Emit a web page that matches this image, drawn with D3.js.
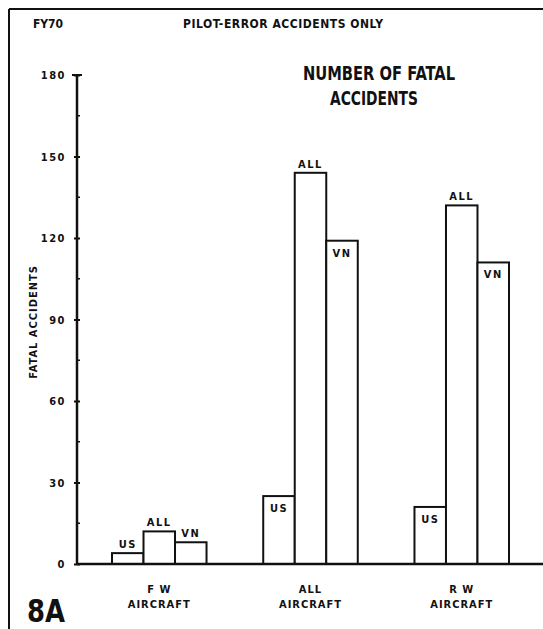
<!DOCTYPE html>
<html>
<head>
<meta charset="utf-8">
<script src="https://cdn.jsdelivr.net/npm/d3@7"></script>
<style>
  html, body { margin: 0; padding: 0; background: #fff; }
  svg { display: block; }
  text { font-family: "DejaVu Sans", sans-serif; font-stretch: condensed; font-weight: bold; fill: #111; }
</style>
</head>
<body>
<script>
// ---- data ----
const groups = ["FW", "ALL", "RW"];
const groupLabels = [["F W", "AIRCRAFT"], ["ALL", "AIRCRAFT"], ["R W", "AIRCRAFT"]];
const series = ["US", "ALL", "VN"];
const seriesLabels = ["US", "ALL", "VN"];
const usValues = [4, 25, 21];
const allValues = [12, 144, 132];
const vnValues = [8, 119, 111];
const yTicks = [0, 30, 60, 90, 120, 150, 180];
const yMinorTicks = [15, 45, 75, 105, 135, 165];

const W = 543, H = 629;
const svg = d3.select("body").append("svg").attr("width", W).attr("height", H);

// frame (top and left edges of the scanned page)
svg.append("line").attr("x1", 9).attr("x2", W).attr("y1", 9).attr("y2", 9)
  .attr("stroke", "#111").attr("stroke-width", 2);
svg.append("line").attr("x1", 9).attr("x2", 9).attr("y1", 9).attr("y2", H)
  .attr("stroke", "#111").attr("stroke-width", 2);

const y = d3.scaleLinear().domain([0, 180]).range([564, 75]);
const x0 = d3.scaleBand().domain(groups).range([112, 509]).paddingInner(0.375).paddingOuter(0);
const x1 = d3.scaleBand().domain(series).range([0, x0.bandwidth()]);
const axisX = 77;

const table = groups.map((g, i) => ({
  group: g,
  values: [
    { s: "US", v: usValues[i], label: seriesLabels[0] },
    { s: "ALL", v: allValues[i], label: seriesLabels[1] },
    { s: "VN", v: vnValues[i], label: seriesLabels[2] }
  ]
}));

// bars
const gGroups = svg.selectAll("g.grp").data(table).join("g")
  .attr("class", "grp").attr("transform", d => `translate(${x0(d.group)},0)`);

gGroups.selectAll("rect").data(d => d.values).join("rect")
  .attr("x", d => x1(d.s))
  .attr("y", d => y(d.v))
  .attr("width", x1.bandwidth())
  .attr("height", d => y(0) - y(d.v))
  .attr("fill", "#fff").attr("stroke", "#111").attr("stroke-width", 2);

gGroups.each(function(d) {
  const maxV = d3.max(d.values, v => v.v);
  d3.select(this).selectAll("text.bl").data(d.values).join("text")
    .attr("class", "bl")
    .attr("x", v => x1(v.s) + x1.bandwidth() / 2)
    .attr("y", v => (v.v === maxV || v.v < 15) ? y(v.v) - 5 : y(v.v) + 16)
    .attr("text-anchor", "middle")
    .attr("font-size", 11)
    .style("letter-spacing", "1.5px")
    .text(v => v.label);
});

// baseline
svg.append("line").attr("x1", axisX).attr("x2", W).attr("y1", y(0)).attr("y2", y(0))
  .attr("stroke", "#111").attr("stroke-width", 2.5);

// y axis
const yAxis = d3.axisLeft(y).tickValues(yTicks).tickSize(4).tickPadding(7);
const ga = svg.append("g").attr("transform", `translate(${axisX},0)`).call(yAxis);
ga.select(".domain").remove();
ga.append("line").attr("x1", 0).attr("x2", 0).attr("y1", y(180)).attr("y2", y(0))
  .attr("stroke", "#111").attr("stroke-width", 2.5);
ga.selectAll(".tick line").attr("x1", -3).attr("x2", 3).attr("stroke", "#111").attr("stroke-width", 2);
ga.selectAll(".tick text").attr("font-size", 11).attr("font-family", null).attr("font-weight", null).style("letter-spacing", "1.5px");
ga.append("line").attr("x1", -5).attr("x2", 5).attr("y1", y(180)).attr("y2", y(180))
  .attr("stroke", "#111").attr("stroke-width", 2);
ga.selectAll("line.minor").data(yMinorTicks).join("line").attr("class", "minor")
  .attr("x1", 0).attr("x2", 3).attr("y1", d => y(d)).attr("y2", d => y(d))
  .attr("stroke", "#111").attr("stroke-width", 1.5);

// y label
svg.append("text").attr("transform", `translate(37,322) rotate(-90)`)
  .attr("text-anchor", "middle").attr("font-size", 11).style("letter-spacing", "1px")
  .text("FATAL ACCIDENTS");

// category labels
groupLabels.forEach((lines, i) => {
  const cx = x0(groups[i]) + x0.bandwidth() / 2;
  lines.forEach((t, j) => {
    svg.append("text").attr("x", cx).attr("y", 593 + j * 15)
      .attr("text-anchor", "middle").attr("font-size", 11).style("letter-spacing", "1px").text(t);
  });
});

// headers
svg.append("text").attr("x", 33).attr("y", 28).attr("font-size", 12)
  .attr("textLength", 30).attr("lengthAdjust", "spacing").text("FY70");
svg.append("text").attr("x", 183).attr("y", 28).attr("font-size", 12)
  .attr("textLength", 200).attr("lengthAdjust", "spacing").text("PILOT-ERROR ACCIDENTS ONLY");
svg.append("text").attr("x", 303).attr("y", 80).attr("font-size", 19)
  .attr("textLength", 152).attr("lengthAdjust", "spacingAndGlyphs").text("NUMBER OF FATAL");
svg.append("text").attr("x", 330).attr("y", 105).attr("font-size", 19)
  .attr("textLength", 88).attr("lengthAdjust", "spacingAndGlyphs").text("ACCIDENTS");
svg.append("text").attr("x", 27).attr("y", 622).attr("font-size", 32)
  .attr("textLength", 38).attr("lengthAdjust", "spacingAndGlyphs").text("8A");
</script>
</body>
</html>
